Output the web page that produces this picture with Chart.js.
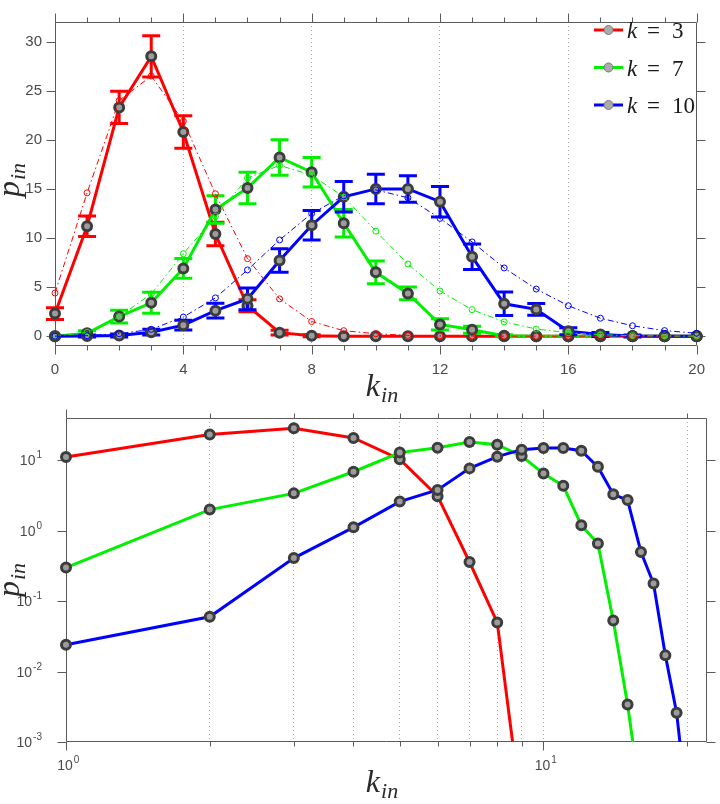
<!DOCTYPE html>
<html>
<head>
<meta charset="utf-8">
<title>p_in vs k_in</title>
<script src="https://cdn.jsdelivr.net/npm/chart.js@4.4.1/dist/chart.umd.min.js"></script>
<style>
  html, body { margin: 0; padding: 0; background: #fff; }
  #wrap { position: relative; width: 720px; height: 804px; }
  #topBox { position: absolute; left: 0; top: 0; width: 720px; height: 410px; }
  #botBox { position: absolute; left: 0; top: 400px; width: 720px; height: 404px; }
</style>
</head>
<body>
<div id="wrap">
  <div id="topBox"><canvas id="linChart"></canvas></div>
  <div id="botBox"><canvas id="logChart"></canvas></div>
</div>
<script>
// in-degree distribution p_in(k_in), mean degree k = 3, 7, 10

const kIn = [0, 1, 2, 3, 4, 5, 6, 7, 8, 9, 10, 11, 12, 13, 14, 15, 16, 17, 18, 19, 20];

// measured means (solid lines)
const pK3  = [2.3, 11.2, 23.3, 28.5, 20.8, 10.4, 3.1, 0.36, 0.05, 0.0001, 0, 0, 0, 0, 0, 0, 0, 0, 0, 0, 0];
const pK7  = [0, 0.3, 2.0, 3.4, 6.9, 12.9, 15.1, 18.2, 16.7, 11.5, 6.5, 4.35, 1.2, 0.66, 0.053, 0.0034, 0.00015, 0, 0, 0, 0];
const pK10 = [0, 0.024, 0.06, 0.41, 1.12, 2.6, 3.8, 7.7, 11.3, 14.2, 15.0, 15.0, 13.7, 8.1, 3.3, 2.73, 0.5, 0.178, 0.017, 0.0026, 0.00012];

// error bar half-lengths
const errK3  = [0.6, 1.05, 1.65, 2.1, 1.65, 1.2, 0.6, 0.25, 0.1, 0, 0, 0, 0, 0, 0, 0, 0, 0, 0, 0, 0];
const errK7  = [0, 0.25, 0.65, 1.07, 1.0, 1.4, 1.6, 1.8, 1.5, 1.4, 1.17, 0.65, 0.58, 0.35, 0.1, 0, 0, 0, 0, 0, 0];
const errK10 = [0, 0.1, 0.15, 0.3, 0.5, 0.75, 1.1, 1.2, 1.5, 1.55, 1.5, 1.35, 1.55, 1.3, 1.2, 0.6, 0.35, 0.2, 0.1, 0, 0];

// reference curves (thin dash-dot with open circles)
const fitK3  = [4.4, 14.6, 24.0, 26.5, 21.9, 14.5, 7.9, 3.8, 1.5, 0.56, 0.25, 0.08, 0.03, 0.01, 0, 0, 0, 0, 0, 0, 0];
const fitK7  = [0, 0.4, 2.0, 4.3, 8.4, 12.2, 16.1, 17.4, 16.4, 14.2, 10.7, 7.35, 4.6, 2.7, 1.46, 0.73, 0.35, 0.15, 0.06, 0.02, 0.01];
const fitK10 = [0, 0.05, 0.25, 0.7, 1.95, 3.9, 6.75, 9.8, 12.5, 14.3, 14.9, 14.1, 12.0, 9.6, 6.95, 4.8, 3.1, 1.83, 1.06, 0.57, 0.3];

const seriesK = ['3', '7', '10'];
const seriesColors = ['#ff0000', '#00f000', '#0000ff'];

// axis ticks
const linXTicks = [0, 4, 8, 12, 16, 20];
const linYTicks = [0, 5, 10, 15, 20, 25, 30];
const logXTicks = [1, 2, 3, 4, 5, 6, 7, 8, 9, 10, 20];
const logXLabelled = [1, 10];
const logYTicks = [0.001, 0.01, 0.1, 1, 10];

const means = [pK3, pK7, pK10];
const errs = [errK3, errK7, errK10];
const fits = [fitK3, fitK7, fitK10];

const TICK_FONT = '"Liberation Sans", Arial, Helvetica, sans-serif';
const MATH_FONT = '"Liberation Serif", "Times New Roman", serif';
const AXIS_COLOR = '#5a5a5a';
const LABEL_COLOR = '#4a4a4a';
const NONE = 'rgba(0,0,0,0)';

/**
 * "10" with a raised exponent; align: 'right' or 'center' about x
 */
function drawPow(ctx, v, x, baseline, align) {
  const e = String(Math.round(Math.log10(v)));
  ctx.font = '14px ' + TICK_FONT;
  const wb = ctx.measureText('10').width;
  ctx.font = '10px ' + TICK_FONT;
  const we = ctx.measureText(e).width;
  const x0 = align === 'right' ? x - wb - we - 1 : x - wb / 2 - 1;
  ctx.font = '14px ' + TICK_FONT;
  ctx.fillText('10', x0, baseline);
  ctx.font = '10px ' + TICK_FONT;
  ctx.fillText(e, x0 + wb + 1, baseline - 7);
}

/**
 * k_in / p_in style label: italic letter with a smaller subscript
 */
function mathLabel(ctx, base, sub, cx, cy, rotated) {
  ctx.save();
  ctx.translate(cx, cy);
  if (rotated) ctx.rotate(-Math.PI / 2);
  ctx.fillStyle = '#2a2a2a';
  ctx.textBaseline = 'alphabetic';
  ctx.font = 'italic 32px ' + MATH_FONT;
  const wb = ctx.measureText(base).width;
  ctx.font = 'italic 22px ' + MATH_FONT;
  const ws = ctx.measureText(sub).width;
  const x0 = -(wb + ws + 1) / 2;
  ctx.font = 'italic 32px ' + MATH_FONT;
  ctx.fillText(base, x0, 0);
  ctx.font = 'italic 22px ' + MATH_FONT;
  ctx.fillText(sub, x0 + wb + 1, 6);
  ctx.restore();
}

/**
 * box around the axes with outward tick marks on all four sides
 */
function framePlugin(xMinor, xMajor, yTicks) {
  return {
    id: 'frame',
    beforeDatasetsDraw(chart) {
      const { ctx, chartArea: a, scales: { x, y } } = chart;
      const L = Math.round(a.left) + 0.5, R = Math.round(a.right) - 0.5;
      const T = Math.round(a.top) + 0.5, B = Math.round(a.bottom) - 0.5;
      ctx.save();
      ctx.strokeStyle = AXIS_COLOR;
      ctx.lineWidth = 1;
      ctx.beginPath();
      ctx.rect(L, T, R - L, B - T);
      xMinor.forEach(v => {
        const len = xMajor.includes(v) ? 9 : 5;
        const px = Math.round(x.getPixelForValue(v)) + 0.5;
        ctx.moveTo(px, B); ctx.lineTo(px, B + len);
        ctx.moveTo(px, T); ctx.lineTo(px, T - len);
      });
      yTicks.forEach(v => {
        const py = Math.round(y.getPixelForValue(v)) + 0.5;
        ctx.moveTo(L, py); ctx.lineTo(L - 9, py);
        ctx.moveTo(R, py); ctx.lineTo(R + 9, py);
      });
      ctx.stroke();
      ctx.restore();
    }
  };
}

/**
 * error bars drawn right before each dataset's line
 */
const errorBarPlugin = {
  id: 'errorBars',
  beforeDatasetDraw(chart, args) {
    const ds = chart.data.datasets[args.index];
    if (!ds.errors) return;
    const { ctx, scales: { x, y } } = chart;
    ctx.save();
    ctx.strokeStyle = ds.borderColor;
    ctx.lineWidth = 3;
    ctx.beginPath();
    ds.data.forEach((pt, i) => {
      const e = ds.errors[i];
      if (!e) return;
      const px = x.getPixelForValue(pt.x);
      const y1 = y.getPixelForValue(pt.y - e);
      const y2 = y.getPixelForValue(pt.y + e);
      ctx.moveTo(px, y1); ctx.lineTo(px, y2);
      ctx.moveTo(px - 9, y1); ctx.lineTo(px + 9, y1);
      ctx.moveTo(px - 9, y2); ctx.lineTo(px + 9, y2);
    });
    ctx.stroke();
    ctx.restore();
  }
};

const legendPlugin = {
  id: 'mathLegend',
  afterDraw(chart) {
    const ctx = chart.ctx;
    ctx.save();
    seriesK.forEach((k, i) => {
      const ly = 30 + i * 37.5;
      ctx.strokeStyle = seriesColors[i];
      ctx.lineWidth = 3;
      ctx.beginPath();
      ctx.moveTo(594, ly); ctx.lineTo(623, ly);
      ctx.stroke();
      ctx.beginPath();
      ctx.arc(608.5, ly, 4.5, 0, Math.PI * 2);
      ctx.fillStyle = '#ababab';
      ctx.fill();
      ctx.strokeStyle = '#7a7a7a';
      ctx.lineWidth = 1;
      ctx.stroke();
      ctx.fillStyle = '#1a1a1a';
      ctx.textBaseline = 'alphabetic';
      ctx.font = 'italic 23px ' + MATH_FONT;
      ctx.fillText('k', 627, ly + 8);
      ctx.font = '23px ' + MATH_FONT;
      ctx.fillText('=', 647, ly + 8);
      ctx.fillText(k, 672, ly + 8);
    });
    ctx.restore();
  }
};

const titlesTop = {
  id: 'titlesTop',
  afterDraw(chart) {
    mathLabel(chart.ctx, 'k', 'in', 382, 396, false);
    mathLabel(chart.ctx, 'p', 'in', 19, 180, true);
  }
};

// log chart: axis titles and power-of-ten tick labels
const titlesBottom = {
  id: 'titlesBottom',
  afterDraw(chart) {
    const { ctx, chartArea: a, scales: { x, y } } = chart;
    ctx.save();
    ctx.fillStyle = LABEL_COLOR;
    ctx.textBaseline = 'alphabetic';
    ctx.textAlign = 'left';
    logYTicks.forEach(v => drawPow(ctx, v, a.left - 24, y.getPixelForValue(v) + 5, 'right'));
    logXLabelled.forEach(v => drawPow(ctx, v, x.getPixelForValue(v), a.bottom + 28, 'center'));
    ctx.restore();
    mathLabel(ctx, 'k', 'in', 382, 392, false);
    mathLabel(ctx, 'p', 'in', 19, 180, true);
  }
};

// ---------- linear chart ----------
const linDatasets = [];
means.forEach((p, i) => {
  linDatasets.push({
    label: 'k = ' + seriesK[i],
    data: kIn.map((k, j) => ({ x: k, y: p[j] })),
    errors: errs[i],
    borderColor: seriesColors[i],
    borderWidth: 3,
    pointRadius: 4.5,
    pointBorderWidth: 3,
    pointBorderColor: '#3d3d3d',
    pointBackgroundColor: '#9c9c9c',
    order: 6 - i,
    clip: false
  });
  linDatasets.push({
    label: 'fit k = ' + seriesK[i],
    data: kIn.map((k, j) => ({ x: k, y: fits[i][j] })),
    borderColor: seriesColors[i],
    borderWidth: 1,
    borderDash: [6, 3, 1.5, 3],
    pointRadius: 3,
    pointBorderWidth: 1,
    pointBorderColor: seriesColors[i],
    pointBackgroundColor: NONE,
    order: 3 - i,
    clip: false
  });
});

new Chart(document.getElementById('linChart'), {
  type: 'line',
  data: { datasets: linDatasets },
  plugins: [framePlugin(kIn, linXTicks, linYTicks), errorBarPlugin, legendPlugin, titlesTop],
  options: {
    animation: false,
    responsive: true,
    maintainAspectRatio: false,
    events: [],
    layout: { padding: { top: 13, right: 16, bottom: 0, left: 0 } },
    plugins: { legend: { display: false }, tooltip: { enabled: false } },
    scales: {
      x: {
        type: 'linear', min: 0, max: 20,
        afterBuildTicks: s => { s.ticks = linXTicks.map(v => ({ value: v })); },
        afterFit: s => { s.height = 64; },
        ticks: { autoSkip: false, maxRotation: 0, padding: 15, color: LABEL_COLOR, font: { family: TICK_FONT, size: 15 } },
        grid: {
          drawTicks: false, lineWidth: 1,
          color: c => (c.tick && (c.tick.value === 0 || c.tick.value === 20)) ? NONE : '#a8a8a8'
        },
        border: { display: false, dash: [1, 3] }
      },
      y: {
        type: 'linear', min: -1, max: 32,
        afterBuildTicks: s => { s.ticks = linYTicks.map(v => ({ value: v })); },
        afterFit: s => { s.width = 55; },
        ticks: { autoSkip: false, padding: 13, color: LABEL_COLOR, font: { family: TICK_FONT, size: 15 } },
        grid: { display: false, drawTicks: false },
        border: { display: false }
      }
    }
  }
});

// ---------- log-log chart ----------
const logDatasets = means.map((p, i) => ({
  label: 'k = ' + seriesK[i],
  data: kIn.filter(k => k > 0).map(k => ({ x: k, y: p[k] > 0 ? p[k] : null })),
  borderColor: seriesColors[i],
  borderWidth: 3,
  pointRadius: 4.5,
  pointBorderWidth: 3,
  pointBorderColor: '#3d3d3d',
  pointBackgroundColor: '#9c9c9c',
  order: 3 - i,
  clip: { left: 12, top: 12, right: 12, bottom: 0 }
}));

new Chart(document.getElementById('logChart'), {
  type: 'line',
  data: { datasets: logDatasets },
  plugins: [framePlugin(logXTicks, logXLabelled, logYTicks), titlesBottom],
  options: {
    animation: false,
    responsive: true,
    maintainAspectRatio: false,
    events: [],
    layout: { padding: { top: 18, right: 13, bottom: 0, left: 0 } },
    plugins: { legend: { display: false }, tooltip: { enabled: false } },
    scales: {
      x: {
        type: 'logarithmic', min: 1, max: 22,
        afterBuildTicks: s => { s.ticks = logXTicks.map(v => ({ value: v })); },
        afterFit: s => { s.height = 62; },
        ticks: { display: false, autoSkip: false },
        grid: {
          drawTicks: false, lineWidth: 1,
          color: c => (c.tick && c.tick.value === 1) ? NONE : '#a8a8a8'
        },
        border: { display: false, dash: [1, 3] }
      },
      y: {
        type: 'logarithmic', min: 0.001, max: 40,
        afterBuildTicks: s => { s.ticks = logYTicks.map(v => ({ value: v })); },
        afterFit: s => { s.width = 66; },
        ticks: { display: false, autoSkip: false },
        grid: { display: false, drawTicks: false },
        border: { display: false }
      }
    }
  }
});
</script>
</body>
</html>
